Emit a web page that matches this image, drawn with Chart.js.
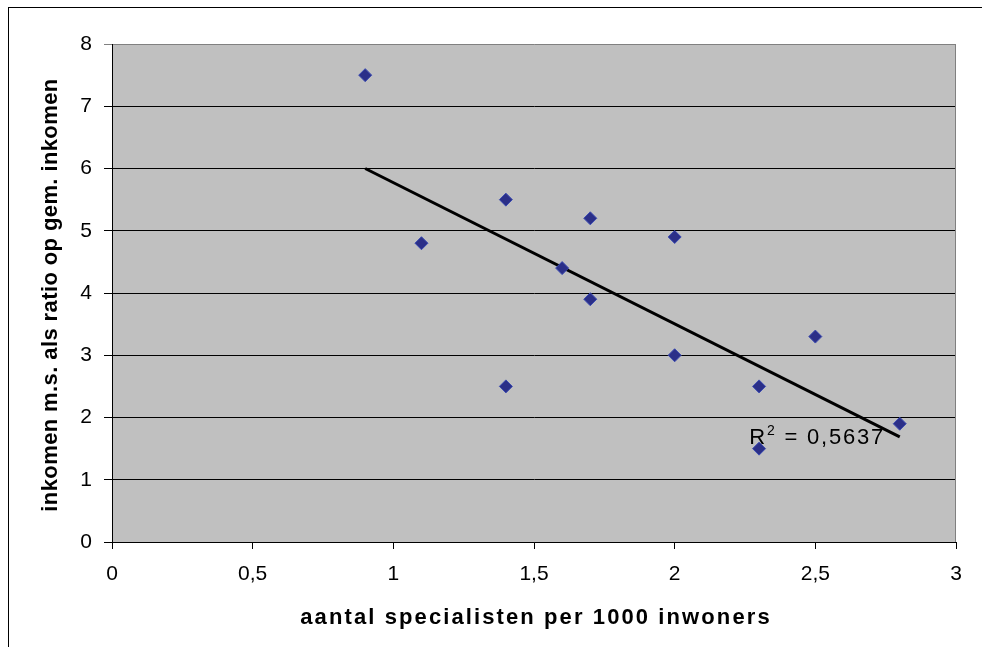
<!DOCTYPE html>
<html>
<head>
<meta charset="utf-8">
<script src="https://cdn.jsdelivr.net/npm/chart.js@4.4.1/dist/chart.umd.min.js"></script>
<style>
html,body{margin:0;padding:0;background:#fff;}
#wrap{width:982px;height:647px;position:relative;}
</style>
</head>
<body>
<div id="wrap"><canvas id="c" width="982" height="647"></canvas></div>
<script>
// ---- data ----
const specialistsX = [0.9, 1.1, 1.4, 1.4, 1.6, 1.7, 1.7, 2.0, 2.0, 2.3, 2.3, 2.5, 2.8];
const incomeRatioY = [7.5, 4.8, 5.5, 2.5, 4.4, 5.2, 3.9, 4.9, 3.0, 2.5, 1.5, 3.3, 1.9];
const trendX = [0.9, 2.8];
const trendY = [6.0, 1.69];
const xTickLabels = ['0', '0,5', '1', '1,5', '2', '2,5', '3'];
const yTickLabels = ['0', '1', '2', '3', '4', '5', '6', '7', '8'];
const xTitle = 'aantal specialisten per 1000 inwoners';
const yTitle = 'inkomen m.s. als ratio op gem. inkomen';
const rSquaredLabel = { base: 'R', sup: '2', rest: ' = 0,5637', x: 2.265, y: 1.57 };

const FONT = '"Liberation Sans", Arial, sans-serif';

const decorPlugin = {
  id: 'decor',
  beforeDraw(chart) {
    const ctx = chart.ctx, a = chart.chartArea;
    ctx.save();
    ctx.fillStyle = '#fff';
    ctx.fillRect(0, 0, chart.width, chart.height);
    ctx.strokeStyle = '#000';
    ctx.lineWidth = 1;
    ctx.strokeRect(8.5, 7.5, 2000, 2000);
    ctx.fillStyle = '#C0C0C0';
    ctx.fillRect(a.left, a.top, a.right - a.left, a.bottom - a.top);
    ctx.restore();
  },
  beforeDatasetsDraw(chart) {
    const ctx = chart.ctx, a = chart.chartArea;
    ctx.save();
    ctx.strokeStyle = '#808080';
    ctx.lineWidth = 1;
    ctx.beginPath();
    ctx.moveTo(Math.round(a.right) - 0.5, a.top);
    ctx.lineTo(Math.round(a.right) - 0.5, a.bottom);
    ctx.stroke();
    ctx.restore();
  },
  afterDraw(chart) {
    const ctx = chart.ctx, a = chart.chartArea;
    const xs = chart.scales.x, ys = chart.scales.y;
    ctx.save();
    ctx.fillStyle = '#000';
    // x title
    ctx.font = 'bold 22px ' + FONT;
    ctx.letterSpacing = '2.1px';
    ctx.textAlign = 'center';
    ctx.textBaseline = 'alphabetic';
    ctx.fillText(xTitle, (a.left + a.right) / 2 + 2, 624);
    // y title
    ctx.save();
    ctx.letterSpacing = '0.4px';
    ctx.translate(57, (a.top + a.bottom) / 2 + 2);
    ctx.rotate(-Math.PI / 2);
    ctx.fillText(yTitle, 0, 0);
    ctx.restore();
    // R squared label
    ctx.letterSpacing = '1.8px';
    ctx.font = '22px ' + FONT;
    ctx.textAlign = 'left';
    let px = xs.getPixelForValue(rSquaredLabel.x);
    const py = ys.getPixelForValue(rSquaredLabel.y);
    ctx.fillText(rSquaredLabel.base, px, py);
    px += ctx.measureText(rSquaredLabel.base).width;
    ctx.font = '14px ' + FONT;
    ctx.fillText(rSquaredLabel.sup, px, py - 9);
    px += ctx.measureText(rSquaredLabel.sup).width;
    ctx.font = '22px ' + FONT;
    ctx.fillText(rSquaredLabel.rest, px, py);
    ctx.restore();
  }
};

const points = specialistsX.map((x, i) => ({ x: x, y: incomeRatioY[i] }));
const trend = trendX.map((x, i) => ({ x: x, y: trendY[i] }));

new Chart(document.getElementById('c'), {
  type: 'scatter',
  data: {
    datasets: [
      {
        label: 'trend',
        type: 'line',
        data: trend,
        borderColor: '#000',
        borderWidth: 3,
        pointRadius: 0,
        fill: false,
        order: 1
      },
      {
        label: 'data',
        data: points,
        pointStyle: 'rectRot',
        pointRadius: 6.5,
        pointHoverRadius: 6.5,
        backgroundColor: '#2B2F88',
        borderColor: '#3A4AB2',
        borderWidth: 1,
        order: 0
      }
    ]
  },
  options: {
    responsive: false,
    animation: false,
    events: [],
    layout: { padding: { left: 0, top: 44, right: 26, bottom: 0 } },
    plugins: { legend: { display: false }, tooltip: { enabled: false } },
    scales: {
      x: {
        type: 'linear',
        min: 0, max: 3,
        afterFit(s) { s.height = 105; },
        afterBuildTicks(s) { s.ticks = xTickLabels.map((_, i) => ({ value: i * 0.5 })); },
        ticks: {
          font: { family: FONT, size: 21 },
          color: '#000',
          padding: 13,
          maxRotation: 0,
          autoSkip: false,
          callback: (v, i) => xTickLabels[i]
        },
        grid: { drawOnChartArea: false, drawTicks: true, tickLength: 7, color: '#000' },
        border: { color: '#000', width: 1 }
      },
      y: {
        type: 'linear',
        min: 0, max: 8,
        afterFit(s) { s.width = 112; },
        afterBuildTicks(s) { s.ticks = yTickLabels.map((_, i) => ({ value: i })); },
        ticks: {
          font: { family: FONT, size: 21 },
          color: '#000',
          padding: 12,
          autoSkip: false,
          callback: (v, i) => yTickLabels[i]
        },
        grid: {
          color: (c) => (c.tick && c.tick.value === 8 ? '#808080' : '#000'),
          tickLength: 8
        },
        border: { color: '#000', width: 1 }
      }
    }
  },
  plugins: [decorPlugin]
});
</script>
</body>
</html>
